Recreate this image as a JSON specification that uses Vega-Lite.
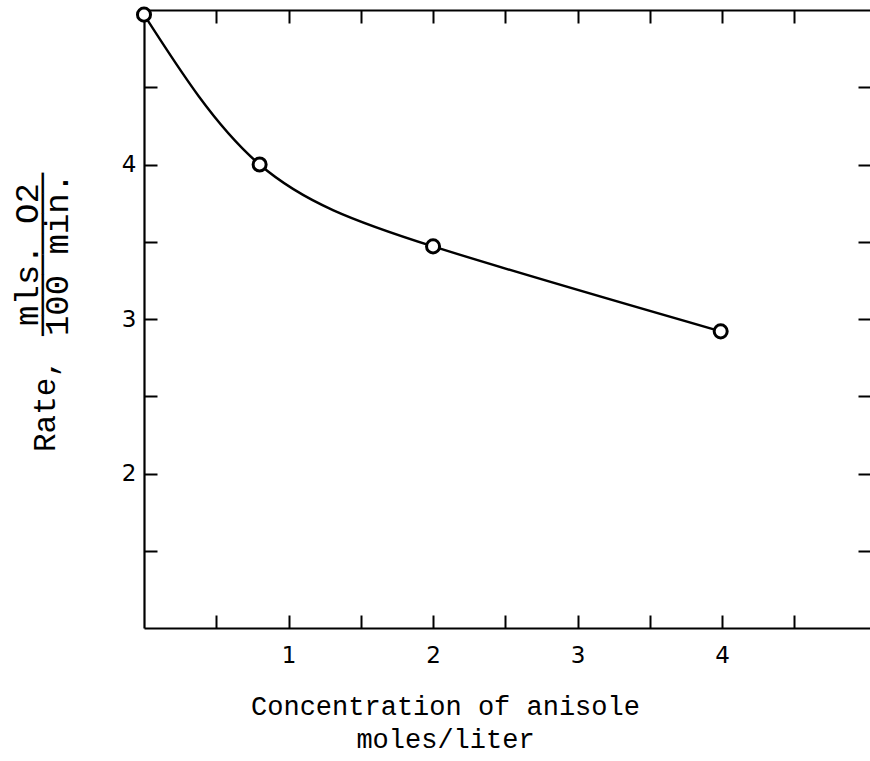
{
  "$schema": "https://vega.github.io/schema/vega-lite/v6.json",
  "width": 727,
  "height": 618,
  "autosize": {"type": "none"},
  "padding": {"left": 144, "top": 10, "right": 0, "bottom": 133},
  "background": "white",
  "config": {
    "view": {"stroke": null},
    "axis": {
      "grid": false,
      "domainColor": "black",
      "domainWidth": 2.2,
      "tickColor": "black",
      "tickWidth": 2,
      "tickSize": -13,
      "labelColor": "black",
      "labelFont": "DejaVu Sans",
      "labelFontSize": 23,
      "titleColor": "black",
      "titleFont": "Liberation Mono",
      "titleFontWeight": "normal",
      "titleFontSize": 26
    }
  },
  "datasets": {
    "pts": [
      {"c": 0, "r": 4.97},
      {"c": 0.8, "r": 4.0},
      {"c": 2.0, "r": 3.47},
      {"c": 3.99, "r": 2.92}
    ]
  },
  "layer": [
    {
      "data": {"name": "pts"},
      "mark": {"type": "line", "interpolate": "natural", "color": "black", "strokeWidth": 2.4},
      "encoding": {
        "x": {
          "field": "c", "type": "quantitative",
          "scale": {"domain": [0, 5.03], "nice": false, "zero": false},
          "axis": {
            "orient": "top", "values": [0.5, 1, 1.5, 2, 2.5, 3, 3.5, 4, 4.5],
            "labels": false, "title": "Rate,", "titleFontSize": 31, "titleAngle": 270,
            "titleX": -99, "titleY": 395, "titleAlign": "center", "titleBaseline": "middle"
          }
        },
        "y": {
          "field": "r", "type": "quantitative",
          "scale": {"domain": [1, 5], "nice": false, "zero": false},
          "axis": {
            "orient": "right", "values": [1.5, 2, 2.5, 3, 3.5, 4, 4.5],
            "labels": false, "title": null
          }
        }
      }
    },
    {
      "data": {"name": "pts"},
      "mark": {"type": "point", "shape": "circle", "filled": true, "fill": "white", "stroke": "black", "strokeWidth": 3, "size": 170, "opacity": 1},
      "encoding": {
        "x": {
          "field": "c", "type": "quantitative",
          "axis": {
            "orient": "bottom", "values": [0.5, 1, 1.5, 2, 2.5, 3, 3.5, 4, 4.5],
            "labelExpr": "datum.value % 1 == 0 ? format(datum.value, 'd') : ''",
            "labelPadding": 29,
            "title": ["Concentration of anisole", "moles/liter"],
            "titleFontSize": 27,
            "titleLineHeight": 33, "titleX": 301, "titleY": 65,
            "titleAlign": "center", "titleBaseline": "top"
          }
        },
        "y": {
          "field": "r", "type": "quantitative",
          "axis": {
            "orient": "left", "values": [1.5, 2, 2.5, 3, 3.5, 4, 4.5],
            "labelExpr": "datum.value % 1 == 0 ? format(datum.value, 'd') : ''",
            "labelPadding": 21,
            "title": ["mls. O2", "────────", "100 min."],
            "titleFontSize": 34, "titleLineHeight": 15,
            "titleX": -117, "titleY": 244, "titleAngle": 270,
            "titleAlign": "center", "titleBaseline": "middle"
          }
        }
      }
    }
  ],
  "resolve": {"axis": {"x": "independent", "y": "independent"}}
}
